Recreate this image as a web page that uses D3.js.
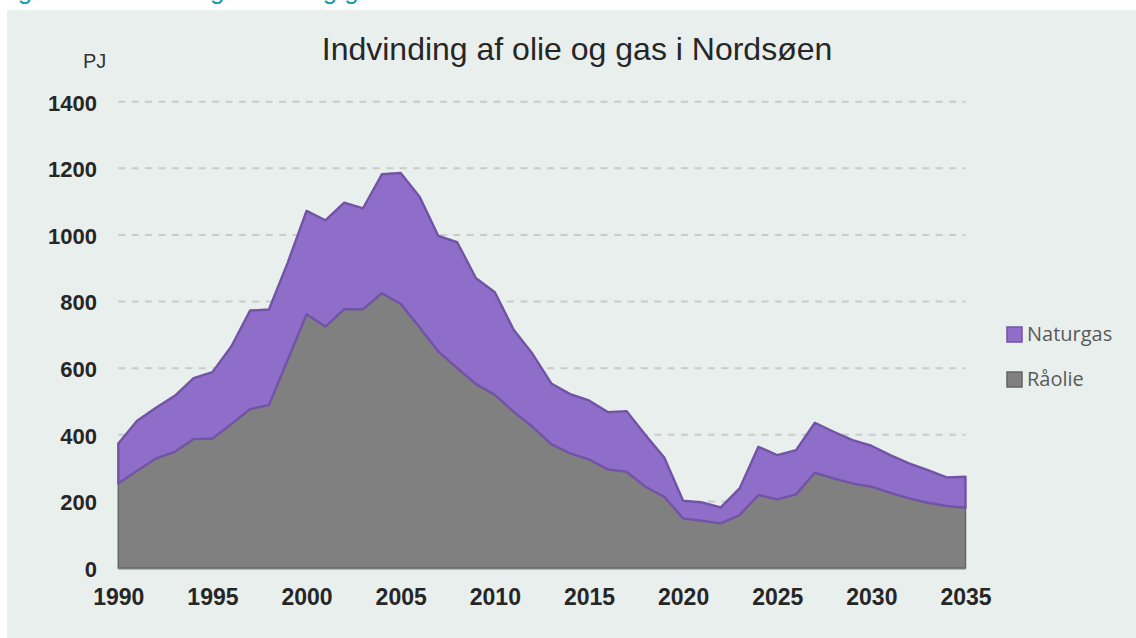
<!DOCTYPE html>
<html>
<head>
<meta charset="utf-8">
<script src="https://cdn.jsdelivr.net/npm/d3@7"></script>
<style>
  html, body { margin: 0; padding: 0; background: #ffffff; }
  #chart { width: 1136px; height: 638px; }
  text { font-family: "Liberation Sans", Arial, sans-serif; }
</style>
</head>
<body>
<div id="chart"></div>
<script>
const years = d3.range(1990, 2036);
const raaolie = [254, 292, 329, 349, 387, 389, 432, 477, 489, 625,
  762, 725, 777, 777, 825, 793, 723, 650, 600, 552,
  520, 469, 424, 372, 344, 326, 296, 289, 244, 214,
  149, 142, 134, 159, 219, 206, 221, 286, 269, 254,
  244, 226, 209, 196, 186, 181];
const naturgas = [120, 150, 152, 168, 183, 199, 233, 296, 287, 292,
  310, 319, 320, 303, 357, 393, 392, 347, 378, 318,
  308, 246, 219, 182, 178, 177, 172, 182, 155, 118,
  53, 55, 48, 80, 145, 133, 133, 150, 140, 130,
  123, 113, 105, 98, 86, 93];
const yTicks = [0, 200, 400, 600, 800, 1000, 1200, 1400];
const xTicks = [1990, 1995, 2000, 2005, 2010, 2015, 2020, 2025, 2030, 2035];
const seriesNames = ["Råolie", "Naturgas"];

const W = 1136, H = 638;
const svg = d3.select("#chart").append("svg").attr("width", W).attr("height", H);

// panel background
svg.append("rect").attr("x", 7).attr("y", 10).attr("width", W - 7).attr("height", H - 10)
  .attr("fill", "#e9efed");

// caption above the panel, cut off by the top edge like in the source
svg.append("text").attr("x", -4).attr("y", -1)
  .attr("fill", "#1b9bab").attr("font-size", 26)
  .text("Figur 3.1 Indvinding af olie og gas i Nordsøen");

const x = d3.scaleLinear().domain([1990, 2035]).range([118.3, 965.5]);
const y = d3.scaleLinear().domain([0, 1400]).range([568, 101.7]);

// gridlines
svg.append("g").selectAll("line")
  .data(yTicks.filter(d => d > 0))
  .enter().append("line")
  .attr("x1", x(1990)).attr("x2", x(2035))
  .attr("y1", d => y(d)).attr("y2", d => y(d))
  .attr("stroke", "#c9cccb").attr("stroke-width", 2)
  .attr("stroke-dasharray", "7,6.4");

const table = years.map((yr, i) => ({ year: yr, "Råolie": raaolie[i], "Naturgas": naturgas[i] }));
const stacked = d3.stack().keys(seriesNames)(table);

const area = d3.area()
  .x(d => x(d.data.year))
  .y0(d => y(d[0]))
  .y1(d => y(d[1]));

// base axis line
svg.append("line")
  .attr("x1", x(1990)).attr("x2", x(2035))
  .attr("y1", y(0) + 1).attr("y2", y(0) + 1)
  .attr("stroke", "#b4b6b5").attr("stroke-width", 2);

svg.append("path").datum(stacked[0])
  .attr("d", area)
  .attr("fill", "#808080")
  .attr("stroke", "#666666").attr("stroke-width", 1.5);

svg.append("path").datum(stacked[1])
  .attr("d", area)
  .attr("fill", "#8e6ec9")
  .attr("stroke", "#7254a6").attr("stroke-width", 2.4)
  .attr("stroke-linejoin", "round");

// y axis labels
const yAxis = svg.append("g").attr("transform", `translate(97,0)`)
  .call(d3.axisLeft(y).tickValues(yTicks).tickSize(0).tickPadding(0).tickFormat(d3.format("d")));
yAxis.select(".domain").remove();
yAxis.selectAll("text")
  .attr("font-size", 22).attr("font-weight", "bold").attr("fill", "#262626")
  .attr("dy", "0.38em")
  .style("font-family", "'Liberation Sans', Arial, sans-serif");

// x axis labels
const xAxis = svg.append("g").attr("transform", `translate(0,588)`)
  .call(d3.axisBottom(x).tickValues(xTicks).tickSize(0).tickPadding(0).tickFormat(d3.format("d")));
xAxis.select(".domain").remove();
xAxis.selectAll("text")
  .attr("font-size", 23).attr("font-weight", "bold").attr("fill", "#262626")
  .attr("dy", "0.74em")
  .style("font-family", "'Liberation Sans', Arial, sans-serif");

// unit label
svg.append("text").attr("x", 83).attr("y", 68)
  .attr("font-size", 20).attr("fill", "#333333").text("PJ");

// title
svg.append("text").attr("x", 577).attr("y", 60).attr("text-anchor", "middle")
  .attr("font-size", 32).attr("fill", "#262626")
  .text("Indvinding af olie og gas i Nordsøen");

// legend
const legendItems = [
  { name: "Naturgas", fill: "#8e6ec9", stroke: "#7254a6", y: 327 },
  { name: "Råolie", fill: "#808080", stroke: "#636363", y: 372 }
];
const legend = svg.append("g");
legendItems.forEach(it => {
  legend.append("rect").attr("x", 1007).attr("y", it.y).attr("width", 15).attr("height", 15)
    .attr("fill", it.fill).attr("stroke", it.stroke).attr("stroke-width", 1.5);
  legend.append("text").attr("x", 1027).attr("y", it.y + 14)
    .attr("font-size", 20).attr("fill", "#595959")
    .style("font-family", "'Open Sans', 'Noto Sans', sans-serif")
    .text(it.name);
});
</script>
</body>
</html>
